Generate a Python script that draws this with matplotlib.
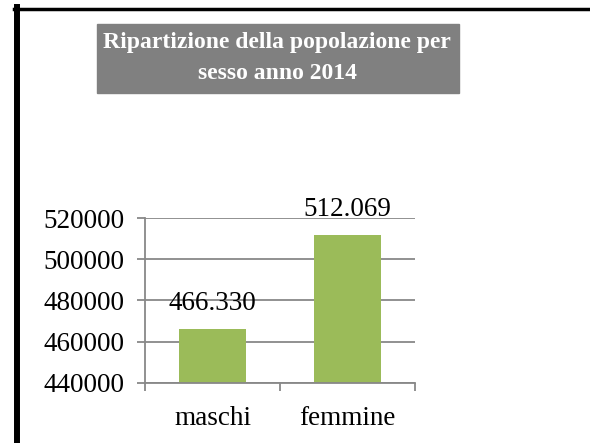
import matplotlib
matplotlib.use('Agg')
import matplotlib.pyplot as plt
from matplotlib.lines import Line2D

categories = ['maschi', 'femmine']
values = [466330, 512069]
value_labels = ['466.330', '512.069']
y_ticks = [440000, 460000, 480000, 500000, 520000]

plt.rcParams['font.family'] = ['Liberation Serif', 'DejaVu Serif']

W, H = 590, 443
fig = plt.figure(figsize=(W / 100, H / 100), dpi=100)

# black frame on top and left only
fig.add_artist(Line2D([17 / W, 17 / W], [0, 1 - 7 / H], color='black', lw=4.3, transform=fig.transFigure))
fig.add_artist(Line2D([14 / W, 1], [1 - 8.75 / H, 1 - 8.75 / H], color='black', lw=2.5, transform=fig.transFigure))

# title in a grey box
fig.patches.append(plt.Rectangle((97 / W, 1 - 93 / H), 362 / W, 69 / H, color='#808080',
                                 transform=fig.transFigure, zorder=1))
fig.text(277 / W, 1 - 58 / H, 'Ripartizione della popolazione per\nsesso anno 2014',
         ha='center', va='center', color='white', fontweight='bold', fontsize=17,
         linespacing=1.6, zorder=2)

ax = fig.add_axes([145 / W, (H - 382.7) / H, 270 / W, (382.7 - 218.3) / H])
x = range(len(categories))
bars = ax.bar(x, values, width=0.5, color='#9BBB59', zorder=2)
ax.set_xlim(-0.5, 1.5)
ax.set_ylim(y_ticks[0], y_ticks[-1])
ax.set_yticks(y_ticks)
ax.set_yticklabels([str(v) for v in y_ticks], fontsize=19.5)
ax.yaxis.grid(True, color='#888888', lw=1.3, zorder=0)
ax.set_xticks([-0.5, 0.5, 1.5], minor=False)
ax.set_xticklabels([])
ax.set_xticks(list(x), minor=True)
ax.set_xticklabels(categories, minor=True, fontsize=19.5)
ax.tick_params(axis='x', which='major', length=6, color='#888888', width=1.3)
ax.tick_params(axis='x', which='minor', length=0, pad=17)
ax.tick_params(axis='y', length=6, color='#888888', width=1.3, pad=9)
for s in ['top', 'right']:
    ax.spines[s].set_visible(False)
for s in ['left', 'bottom']:
    ax.spines[s].set_color('#888888')
    ax.spines[s].set_linewidth(1.3)

for b, lab in zip(bars, value_labels):
    ax.annotate(lab, (b.get_x() + b.get_width() / 2, b.get_height()), xytext=(0, 9),
                textcoords='offset points', ha='center', va='bottom', fontsize=19.5)

fig.savefig('out.png', dpi=100)
